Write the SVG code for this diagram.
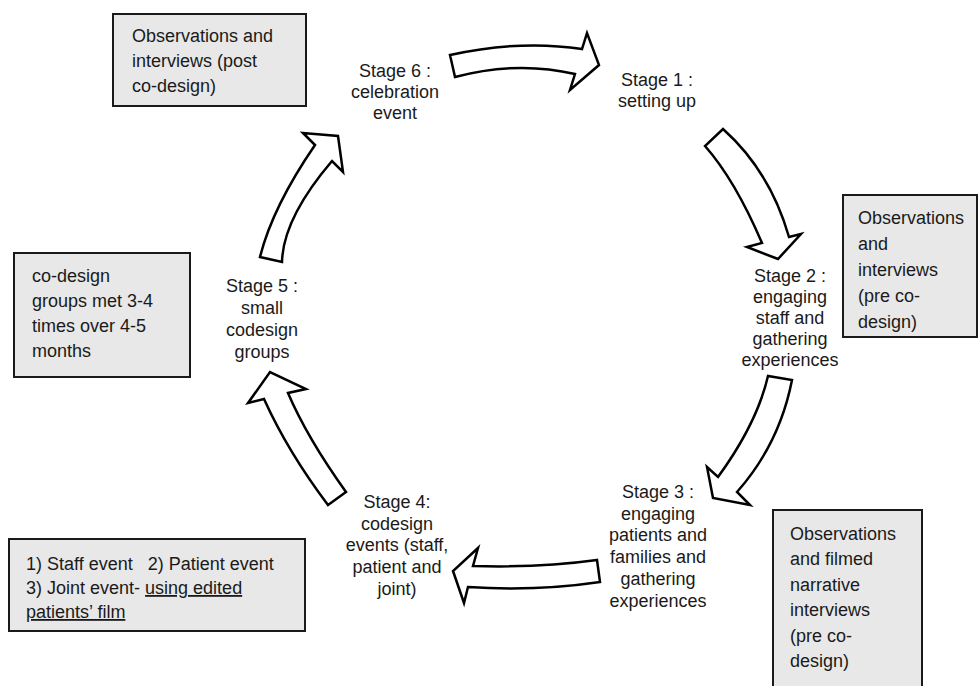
<svg xmlns="http://www.w3.org/2000/svg" width="979" height="686" viewBox="0 0 979 686">
<style>
text{font-family:"Liberation Sans",Arial,sans-serif;font-size:18px;fill:#1a1a1a}
.st{text-anchor:middle}
.box{fill:#e8e8e8;stroke:#1a1a1a;stroke-width:2}
.arr{fill:#fff;stroke:#000;stroke-width:2.5;stroke-linejoin:miter}
.u{text-decoration:underline}
</style>
<rect width="979" height="686" fill="#fff"/>
<g id="connectors">
<path class="arr" d="M450,55 Q520.5,39.5 582,49 L587,33 L599,65 L570,90 L575,74 Q517.5,60.5 455,77 Z"/>
<path class="arr" d="M723,129 Q770,171 789,237 L801,234 L778,259 L747,247 L762,243 Q735,180 705,146 Z"/>
<path class="arr" d="M792,380 Q779.5,444 737,492 L750,505 L713,498 L707,467 L718,477 Q757,423.5 768,376 Z"/>
<path class="arr" d="M597,560 Q539,568 473,566 L478,548 L453,571 L464,603 L468,587 Q536,591.5 600,582 Z"/>
<path class="arr" d="M328,505 Q288,452 264,399 L248,403 L270,372 L306,389 L288,393 Q307,437.5 346,492 Z"/>
<path class="arr" d="M260,257 Q272.5,207 315,145 L303,133 L338,136 L343,172 L332,161 Q283,218.5 282,262 Z"/>
</g>
<g id="stage1"><text class="st" x="657" y="86">Stage 1 :</text><text class="st" x="657" y="107">setting up</text></g>
<g id="stage2"><text class="st" x="790" y="282">Stage 2 :</text><text class="st" x="790" y="303">engaging</text><text class="st" x="790" y="324">staff and</text><text class="st" x="790" y="345">gathering</text><text class="st" x="790" y="366">experiences</text></g>
<g id="stage3"><text class="st" x="658" y="498">Stage 3 :</text><text class="st" x="658" y="520">engaging</text><text class="st" x="658" y="541">patients and</text><text class="st" x="658" y="563">families and</text><text class="st" x="658" y="585">gathering</text><text class="st" x="658" y="607">experiences</text></g>
<g id="stage4"><text class="st" x="397" y="508">Stage 4:</text><text class="st" x="397" y="530">codesign</text><text class="st" x="397" y="551">events (staff,</text><text class="st" x="397" y="573">patient and</text><text class="st" x="397" y="595">joint)</text></g>
<g id="stage5"><text class="st" x="262" y="292">Stage 5 :</text><text class="st" x="262" y="314">small</text><text class="st" x="262" y="336">codesign</text><text class="st" x="262" y="358">groups</text></g>
<g id="stage6"><text class="st" x="395" y="77">Stage 6 :</text><text class="st" x="395" y="98">celebration</text><text class="st" x="395" y="119">event</text></g>
<g id="note-post"><rect class="box" x="113" y="14" width="193" height="92"/><text x="132" y="42">Observations and</text><text x="132" y="67">interviews (post</text><text x="132" y="92">co-design)</text></g>
<g id="note-pre"><rect class="box" x="843" y="195" width="134" height="142"/><text x="858" y="224">Observations</text><text x="858" y="250">and</text><text x="858" y="276">interviews</text><text x="858" y="302">(pre co-</text><text x="858" y="328">design)</text></g>
<g id="note-filmed"><rect class="box" x="773" y="510" width="149" height="180"/><text x="790" y="540">Observations</text><text x="790" y="565">and filmed</text><text x="790" y="591">narrative</text><text x="790" y="616">interviews</text><text x="790" y="642">(pre co-</text><text x="790" y="667">design)</text></g>
<g id="note-groups"><rect class="box" x="14" y="253" width="176" height="124"/><text x="32" y="282">co-design</text><text x="32" y="307">groups met 3-4</text><text x="32" y="332">times over 4-5</text><text x="32" y="357">months</text></g>
<g id="note-events"><rect class="box" x="9" y="539" width="296" height="92"/><text x="26" y="570" xml:space="preserve">1) Staff event   2) Patient event</text><text x="26" y="594">3) Joint event- <tspan class="u">using edited</tspan></text><text x="26" y="618" class="u">patients’ film</text></g>
</svg>
